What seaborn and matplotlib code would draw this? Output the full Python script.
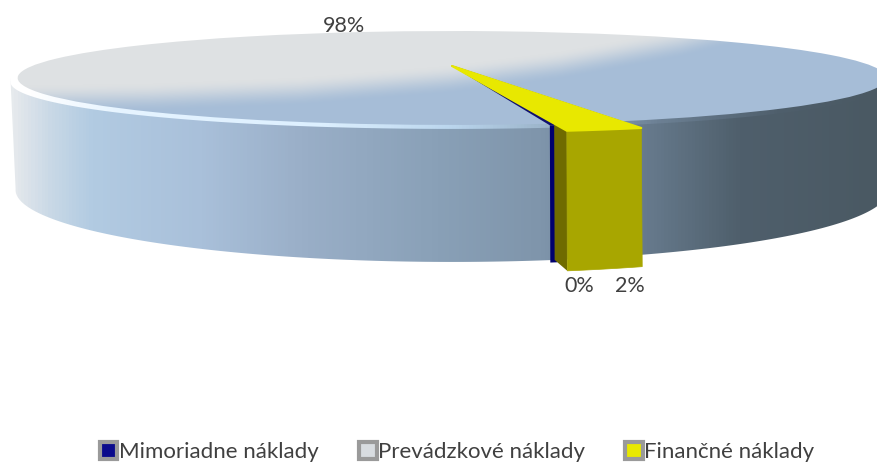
import numpy as np
import matplotlib
matplotlib.use('Agg')
import matplotlib.pyplot as plt
import seaborn as sns
from matplotlib.colors import LinearSegmentedColormap
from matplotlib.patches import Patch, Polygon
from matplotlib.transforms import Transform

categories = ['Mimoriadne náklady', 'Prevádzkové náklady', 'Finančné náklady']
values = [0.2, 97.8, 2.0]
pct_labels = ['0%', '98%', '2%']
legend_colors = ['#0A0A8C', '#D8DCE0', '#E8E800']

sns.set_theme(style='white')
plt.rcParams['font.family'] = ['Lato', 'DejaVu Sans']
TEXT = '#404040'


# pie is flat in its own unit circle, this tilts it like the 3d excel pie
class Tilt(Transform):
    input_dims = 2
    output_dims = 2

    def __init__(self, cx, cy, rx, b, k=0.255):
        super().__init__()
        self.cx, self.cy, self.rx, self.b, self.k = cx, cy, rx, b, k

    def transform_non_affine(self, xy):
        xy = np.asarray(xy, float)
        w = 1 + self.k * xy[:, 1]
        return np.c_[self.cx + self.rx * xy[:, 0] / w, self.cy - self.b * xy[:, 1] / w]


top = Tilt(452, 66, 420, 43.9)
rim = Tilt(452, 70, 427, 43.9)
under_rim = Tilt(452, 67, 427, 43.9)
base = Tilt(452, 171.6, 422, 67.3)


def ring(tilt, r, t1, t2, n=200):
    t = np.radians(np.linspace(t1, t2, n))
    return tilt.transform(np.c_[r * np.cos(t), r * np.sin(t)])


def h_cmap(stops):
    return LinearSegmentedColormap.from_list('g', [(x / 877, c) for x, c in stops])


fig = plt.figure(figsize=(8.77, 4.62), dpi=100)
ax = fig.add_axes([0, 0, 1, 1])

wedges, _ = ax.pie(values, startangle=-79.5, counterclock=False, colors=legend_colors)
blue, grey, yellow = wedges
ax.set_aspect('auto')
ax.set_xlim(0, 877)
ax.set_ylim(462, 0)
ax.axis('off')

# side of the cylinder
xx = np.linspace(0, 877, 877)[None, :]
yy, xg = np.mgrid[0:462, 0:877]
side_stops = [(0, '#EEF0F2'), (14, '#E4E8EC'), (50, '#C8D8E6'), (90, '#B2CBE2'), (200, '#A9C0DA'),
              (300, '#9AAFC8'), (430, '#8AA1B8'), (540, '#7F95AB'), (650, '#66798C'),
              (740, '#4F5F6C'), (877, '#4A5963')]
body = Polygon(np.vstack([ring(under_rim, 1, -166, -14), ring(base, 1, -14, -166)]), transform=ax.transData)
im = ax.imshow(xx, cmap=h_cmap(side_stops), extent=(0, 877, 462, 0), aspect='auto', zorder=1)
im.set_clip_path(body)

# light band around the edge
band_stops = [(0, '#FFFFFF'), (30, '#FFFFFF'), (120, '#E6F4FF'), (320, '#DDF0FF'), (450, '#BBD6EE'),
              (540, '#9DB6CC'), (660, '#6C8094'), (780, '#4F5F6C'), (877, '#4A5963')]
band = Polygon(ring(rim, 1, -180, 180), transform=ax.transData)
im2 = ax.imshow(xx, cmap=h_cmap(band_stops), extent=(0, 877, 462, 0), aspect='auto', zorder=2)
im2.set_clip_path(band)

# top surface, grey into blue
edge_y = np.interp(xg, [0, 150, 300, 450, 560, 680, 760, 877], [84, 82, 76, 64, 50, 28, 8, -20])
t = np.clip((yy - edge_y) / 30, 0, 1)
t = t * t * (3 - 2 * t)
top_cmap = sns.blend_palette(['#DEE1E3', '#A6BDD7'], n_colors=64, as_cmap=True)
im3 = ax.imshow(t, cmap=top_cmap, vmin=0, vmax=1, extent=(0, 877, 462, 0), aspect='auto', zorder=3)
for w in wedges:
    w.set_transform(top + ax.transData)
    w.set_linewidth(0)
grey.set_visible(False)
im3.set_clip_path(grey)

# dark line on the cut and the pulled out slices
cut = top.transform(np.array([[0, 0], [np.cos(np.radians(yellow.theta2)), np.sin(np.radians(yellow.theta2))]]))
ax.plot(cut[:, 0], cut[:, 1], color='#4C5560', lw=1, zorder=4)

blue.set_radius(1.02)
blue.set_facecolor('#10106E')
blue.set_zorder(4)
bt1, bt2 = blue.theta1, blue.theta2
ax.add_patch(Polygon(np.vstack([ring(top, 1.02, bt1, bt2, 10), ring(base, 1.02, bt2, bt1, 10)]),
                     facecolor='#00006E', edgecolor='none', zorder=5))

yr = 1.09
yt1, yt2 = yellow.theta1, yellow.theta2
inner = np.vstack([ring(top, 1.0, yt1, yt1, 2)[:1], ring(top, yr, yt1, yt1, 2)[:1],
                   ring(base, yr, yt1, yt1, 2)[:1], ring(base, 1.0, yt1, yt1, 2)[:1]])
ax.add_patch(Polygon(inner, facecolor='#6F6B00', edgecolor='none', zorder=6))
ax.add_patch(Polygon(np.vstack([ring(top, yr, yt1, yt2, 20), ring(base, yr, yt2, yt1, 20)]),
                     facecolor='#A8A600', edgecolor='#A8A600', lw=0.5, zorder=7))
yellow.set_radius(yr)
yellow.set_facecolor('#E8E800')
yellow.set_edgecolor('#E8E800')
yellow.set_linewidth(1.5)
yellow.set_joinstyle('round')
yellow.set_zorder(8)

ax.text(343.5, 26, pct_labels[1], ha='center', va='center', fontsize=15.5, color=TEXT, zorder=9)
ax.text(579, 286, pct_labels[0], ha='center', va='center', fontsize=15.5, color=TEXT, zorder=9)
ax.text(630, 286, pct_labels[2], ha='center', va='center', fontsize=15.5, color=TEXT, zorder=9)

handles = [Patch(facecolor=c, edgecolor='#9A9A9A', lw=3) for c in legend_colors]
fig.legend(handles, categories, loc='lower center', bbox_to_anchor=(0.521, -0.043), ncol=3, frameon=False,
           fontsize=16, labelcolor=TEXT, handlelength=0.8, handleheight=0.8, handletextpad=0.05,
           columnspacing=1.82)

fig.savefig('out.png', dpi=100)
